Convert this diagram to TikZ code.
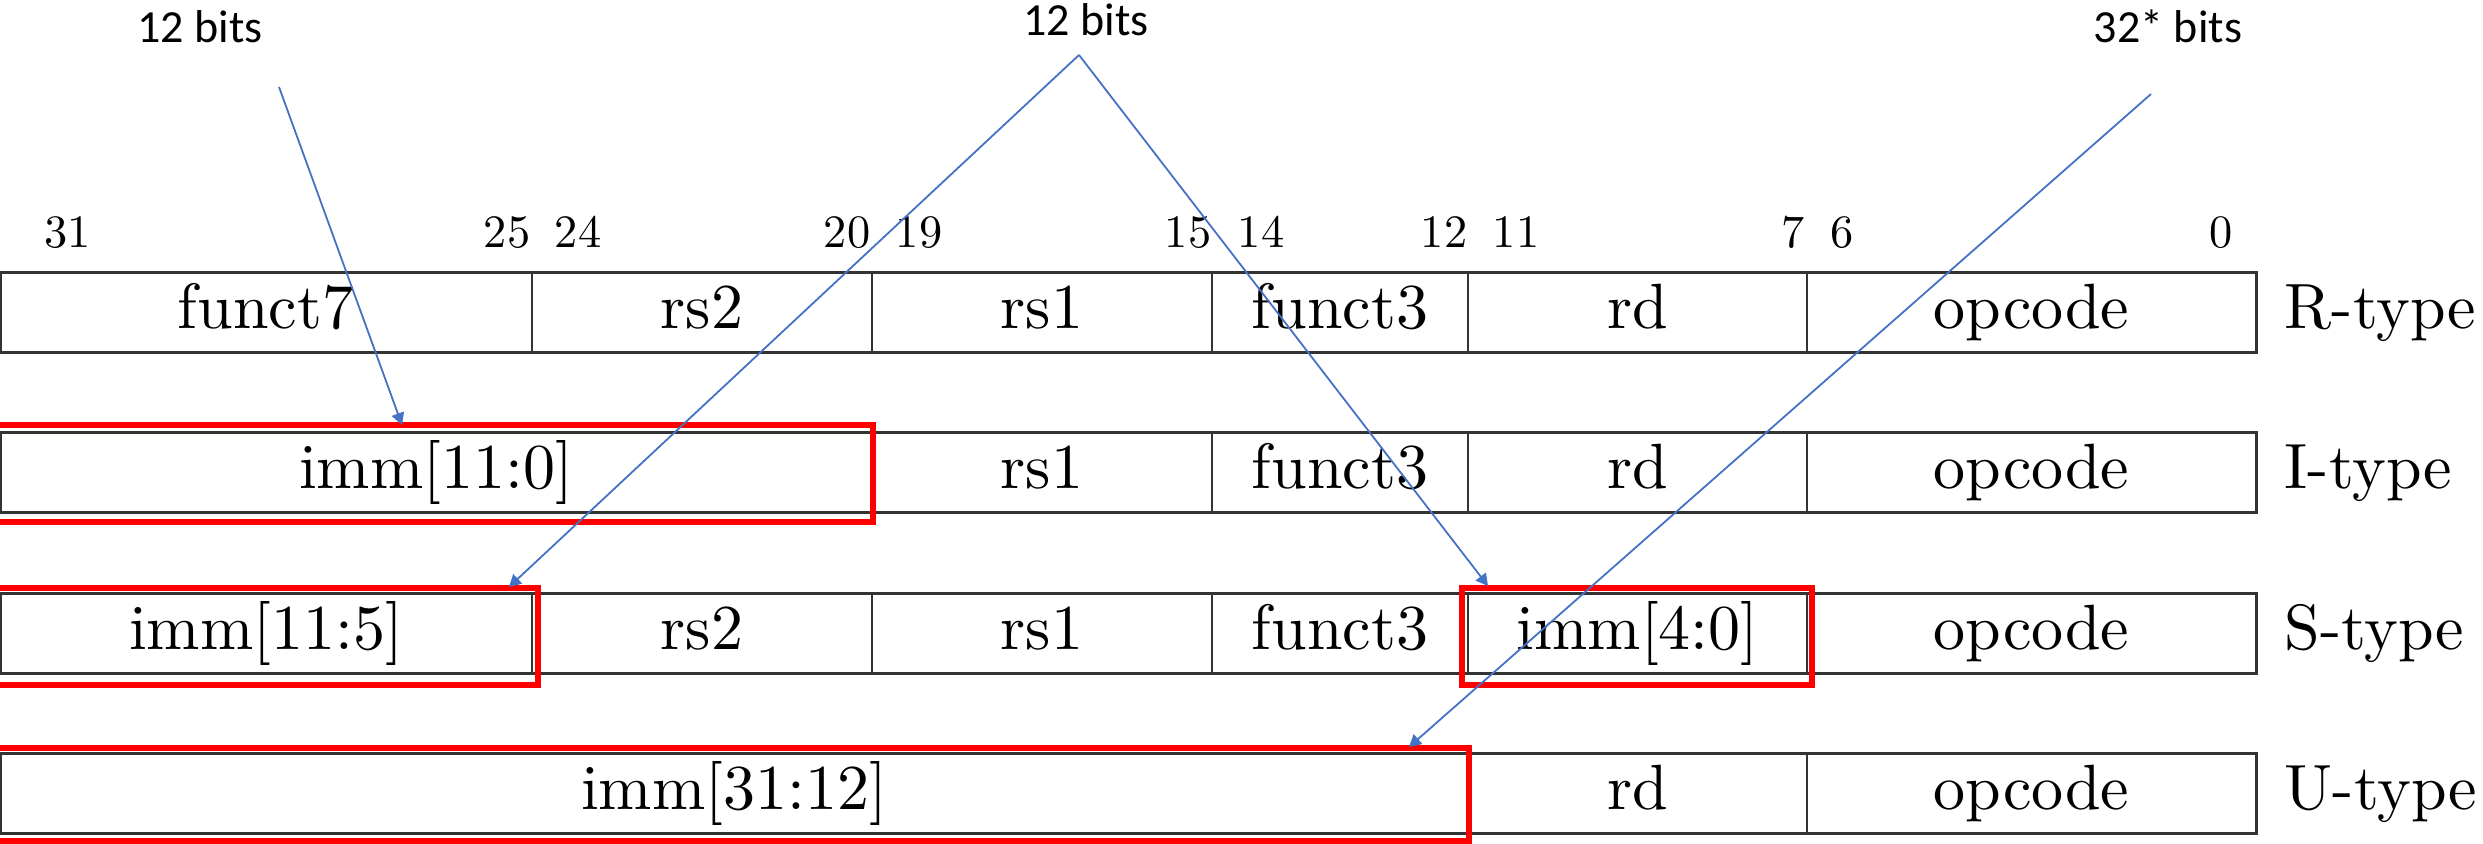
\documentclass[tikz,border=0pt]{standalone}
\usepackage{fontspec}
\newfontfamily\lmten{lmroman10-regular}[Extension=.otf]
\newfontfamily\calib{Carlito}
\usetikzlibrary{arrows.meta}
\definecolor{arrowblue}{HTML}{4472C4}
\definecolor{boxred}{HTML}{FF0000}
\definecolor{rulegray}{HTML}{333333}

\begin{document}
\begin{tikzpicture}[x=0.25pt,y=-0.25pt,
  field/.style={font=\lmten\fontsize{16}{19}\selectfont, anchor=base, inner sep=0pt},
  typename/.style={field, anchor=base west},
  bitlo/.style={font=\lmten\fontsize{11.6}{14}\selectfont, inner sep=0pt, anchor=base east},
  bithi/.style={font=\lmten\fontsize{11.6}{14}\selectfont, inner sep=0pt, anchor=base west},
  rowframe/.style={draw=rulegray, line width=0.75pt},
  divider/.style={draw=rulegray, line width=0.45pt},
  hilite/.style={draw=boxred, line width=1.35pt},
  note/.style={font=\calib\fontsize{11.5}{14}\selectfont, anchor=base, inner sep=0pt},
  pointer/.style={draw=arrowblue, line width=0.45pt, -{Triangle[length=3pt,width=3.2pt]}},
]
\useasboundingbox (0,0) rectangle (2483,844);
\clip (0,0) rectangle (2483,844);

% bit positions above the R-type row
\node[bithi] (b31) at (44,248) {31};
\node[bitlo] (b25) at (531,248) {25};
\node[bithi] (b24) at (554,248) {24};
\node[bitlo] (b20) at (871,248) {20};
\node[bithi] (b19) at (895,248) {19};
\node[bitlo] (b15) at (1212,248) {15};
\node[bithi] (b14) at (1237,248) {14};
\node[bitlo] (b12) at (1468,248) {12};
\node[bithi] (b11) at (1492,248) {11};
\node[bitlo] (b7) at (1805,248) {7};
\node[bithi] (b6) at (1830,248) {6};
\node[bitlo] (b0) at (2233,248) {0};

% R-type
\draw[rowframe] (0.5,273) rectangle (2256,353);
\foreach \x in {532,872,1212,1468,1807} \draw[divider] (\x,273) -- (\x,353);
\node[field] (rf7) at (266,329) {funct7};
\node[field] (rrs2) at (702,329) {rs2};
\node[field] (rrs1) at (1042,329) {rs1};
\node[field] (rf3) at (1340,329) {funct3};
\node[field] (rrd) at (1637.5,329) {rd};
\node[field] (rop) at (2031.5,329) {opcode};
\node[typename] (rtype) at (2284,329) {R-type};

% I-type
\draw[rowframe] (0.5,433) rectangle (2256,513);
\foreach \x in {872,1212,1468,1807} \draw[divider] (\x,433) -- (\x,513);
\node[field] (iimm) at (436,489) {imm[11:0]};
\node[field] (irs1) at (1042,489) {rs1};
\node[field] (if3) at (1340,489) {funct3};
\node[field] (ird) at (1637.5,489) {rd};
\node[field] (iop) at (2031.5,489) {opcode};
\node[typename] (itype) at (2284,489) {I-type};

% S-type
\draw[rowframe] (0.5,593) rectangle (2256,673);
\foreach \x in {532,872,1212,1468,1807} \draw[divider] (\x,593) -- (\x,673);
\node[field] (simmhi) at (266,649) {imm[11:5]};
\node[field] (srs2) at (702,649) {rs2};
\node[field] (srs1) at (1042,649) {rs1};
\node[field] (sf3) at (1340,649) {funct3};
\node[field] (simmlo) at (1637.5,649) {imm[4:0]};
\node[field] (sop) at (2031.5,649) {opcode};
\node[typename] (stype) at (2284,649) {S-type};

% U-type
\draw[rowframe] (0.5,753) rectangle (2256,833);
\foreach \x in {1468,1807} \draw[divider] (\x,753) -- (\x,833);
\node[field] (uimm) at (734,809) {imm[31:12]};
\node[field] (urd) at (1637.5,809) {rd};
\node[field] (uop) at (2031.5,809) {opcode};
\node[typename] (utype) at (2284,809) {U-type};

% immediate fields outlined in red
\draw[hilite] (-20,425) rectangle (873,522);
\draw[hilite] (-20,588) rectangle (538,685);
\draw[hilite] (1462,588) rectangle (1812,685);
\draw[hilite] (-20,748) rectangle (1469,841);

% width notes
\node[note] (wI) at (200,43) {12 bits};
\node[note] (wS) at (1086,36) {12 bits};
\node[note] (wU) at (2168,43) {32* bits};

\coordinate (fromI) at (279,87);
\coordinate (fromS) at (1079,55);
\coordinate (fromU) at (2151,94);
\coordinate (toI) at (402,425);
\coordinate (toShi) at (509,587);
\coordinate (toSlo) at (1488,586);
\coordinate (toU) at (1409,747);

\draw[pointer] (fromI) -- (toI);
\draw[pointer] (fromS) -- (toShi);
\draw[pointer] (fromS) -- (toSlo);
\draw[pointer] (fromU) -- (toU);
\end{tikzpicture}
\end{document}
